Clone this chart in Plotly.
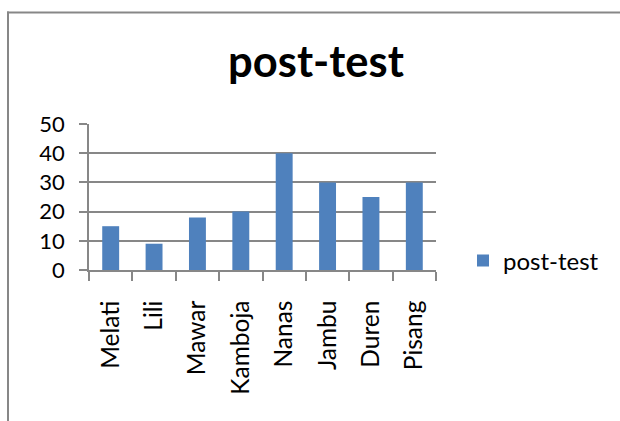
import plotly.graph_objects as go

categories = ["Melati", "Lili", "Mawar", "Kamboja", "Nanas", "Jambu", "Duren", "Pisang"]
values = [15, 9, 18, 20, 40, 30, 25, 30]
series_name = "post-test"
title_text = "post-test"
y_ticks = [0, 10, 20, 30, 40, 50]

W, H = 620, 421
L, R, T, B = 89, 184, 124, 151
pw = W - L - R
ph = H - T - B

def px_to_paper_x(px):
    return (px - L) / pw

def px_to_paper_y(py):
    return (H - B - py) / ph

grid = "#878787"
font_family = "Lato, 'Open Sans', sans-serif"

fig = go.Figure()
fig.add_trace(go.Bar(
    x=categories, y=values, name=series_name,
    marker=dict(color="#4F81BD", line=dict(width=0)),
    showlegend=True,
))

border = dict(color=grid, width=2)
fig.update_layout(
    width=W, height=H,
    autosize=False,
    margin=dict(l=L, r=R, t=T, b=B, pad=0, autoexpand=False),
    paper_bgcolor="white", plot_bgcolor="white",
    bargap=0.61,
    font=dict(family=font_family, color="black", size=22),
    title=dict(text="<b>" + title_text + "</b>", x=px_to_paper_x(316), xref="paper",
               xanchor="center", y=1 - 62 / H, yanchor="middle",
               font=dict(size=43.5, family=font_family, color="black")),
    showlegend=True,
    legend=dict(x=px_to_paper_x(463), y=px_to_paper_y(261), xanchor="left", yanchor="middle",
                font=dict(size=24, family=font_family, color="black"),
                bgcolor="rgba(0,0,0,0)"),
    xaxis=dict(
        type="category", tickangle=-90, showgrid=False, automargin=False,
        showline=True, linecolor=grid, linewidth=1.5,
        ticks="outside", ticklen=9, tickcolor=grid, tickwidth=1.5,
        tickson="boundaries", ticklabelstandoff=19,
        tickfont=dict(size=24.5, family=font_family, color="black"),
        range=[-0.5, len(categories) - 0.5],
    ),
    yaxis=dict(
        range=[0, 50], tickvals=y_ticks, showgrid=True, gridcolor=grid, gridwidth=1.5,
        showline=True, linecolor=grid, linewidth=1.5, zeroline=False, automargin=False,
        ticks="outside", ticklen=8, tickcolor=grid, tickwidth=1.5,
        tickfont=dict(size=22, family=font_family, color="black"),
        ticklabelstandoff=10,
    ),
    shapes=[
        dict(type="line", xref="paper", yref="paper",
             x0=px_to_paper_x(8), x1=px_to_paper_x(8),
             y0=px_to_paper_y(11.5), y1=px_to_paper_y(430), line=border, layer="below"),
        dict(type="line", xref="paper", yref="paper",
             x0=px_to_paper_x(7), x1=px_to_paper_x(630),
             y0=px_to_paper_y(12.5), y1=px_to_paper_y(12.5), line=border, layer="below"),
    ],
)

fig.write_html("out.html", config={"displayModeBar": False},
               post_script="document.body.style.margin='0';document.body.style.padding='0';"
                           "document.body.style.overflow='hidden';"
                           "document.documentElement.style.overflow='hidden';")
